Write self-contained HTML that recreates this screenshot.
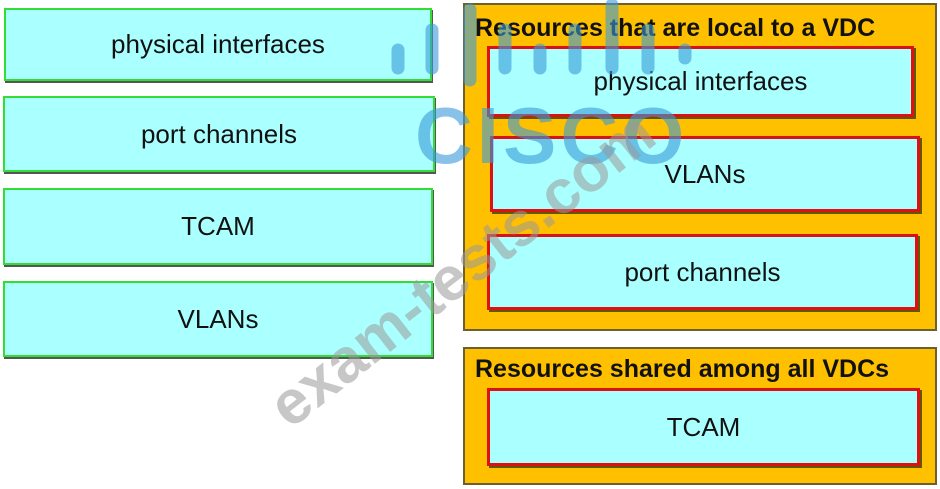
<!DOCTYPE html>
<html><head><meta charset="utf-8"><style>
body{margin:0;width:940px;height:489px;background:#fff;position:relative;overflow:hidden;font-family:"Liberation Sans",sans-serif}
.b{position:absolute;box-sizing:border-box;background:#aaffff;display:flex;align-items:center;justify-content:center;font-size:26px;color:#111}
.g{border:2px solid #33dd33;box-shadow:1px 2px 0 #555}
.r{border:3px solid #dd1111;box-shadow:2px 2px 0 #665500}
.p{position:absolute;box-sizing:border-box;background:#ffc000;border:2px solid #6b6030}
.t{position:absolute;left:10px;font-weight:bold;font-size:25px;color:#111;white-space:nowrap}
.wm{position:absolute;pointer-events:none}
</style></head><body>
<div class="b g" style="left:4px;top:8px;width:428px;height:73px">physical interfaces</div>
<div class="b g" style="left:3px;top:96px;width:432px;height:76px">port channels</div>
<div class="b g" style="left:3px;top:188px;width:430px;height:77px">TCAM</div>
<div class="b g" style="left:3px;top:281px;width:430px;height:76px">VLANs</div>

<div class="p" style="left:463px;top:3px;width:474px;height:328px"><div class="t" style="top:9px">Resources that are local to a VDC</div></div>
<div class="b r" style="left:487px;top:46px;width:427px;height:71px">physical interfaces</div>
<div class="b r" style="left:490px;top:136px;width:430px;height:76px">VLANs</div>
<div class="b r" style="left:487px;top:234px;width:431px;height:76px">port channels</div>

<div class="p" style="left:463px;top:347px;width:474px;height:138px"><div class="t" style="top:6px">Resources shared among all VDCs</div></div>
<div class="b r" style="left:487px;top:388px;width:433px;height:78px">TCAM</div>

<svg class="wm" width="940" height="489" style="left:0;top:0">
<g stroke="#3a9ad9" stroke-opacity="0.6" stroke-width="13" stroke-linecap="round">
<line x1="398" y1="50" x2="398" y2="68"/><line x1="432" y1="30" x2="432" y2="68"/>
<line x1="470" y1="10" x2="470" y2="80"/><line x1="505" y1="30" x2="505" y2="68"/>
<line x1="540" y1="50" x2="540" y2="68"/><line x1="575" y1="30" x2="575" y2="68"/>
<line x1="612" y1="5" x2="612" y2="68"/><line x1="648" y1="30" x2="648" y2="68"/>
<line x1="685" y1="50" x2="685" y2="58"/>
</g>
<text x="415" y="163" font-family="Liberation Sans" font-weight="bold" font-size="80" letter-spacing="4" fill="#3a9ad9" fill-opacity="0.6">CISCO</text>
<text x="290" y="430" transform="rotate(-38 290 430)" font-family="Liberation Sans" font-weight="bold" font-size="62" fill="#999" fill-opacity="0.55">exam-tests.com</text>
</svg>
</body></html>
